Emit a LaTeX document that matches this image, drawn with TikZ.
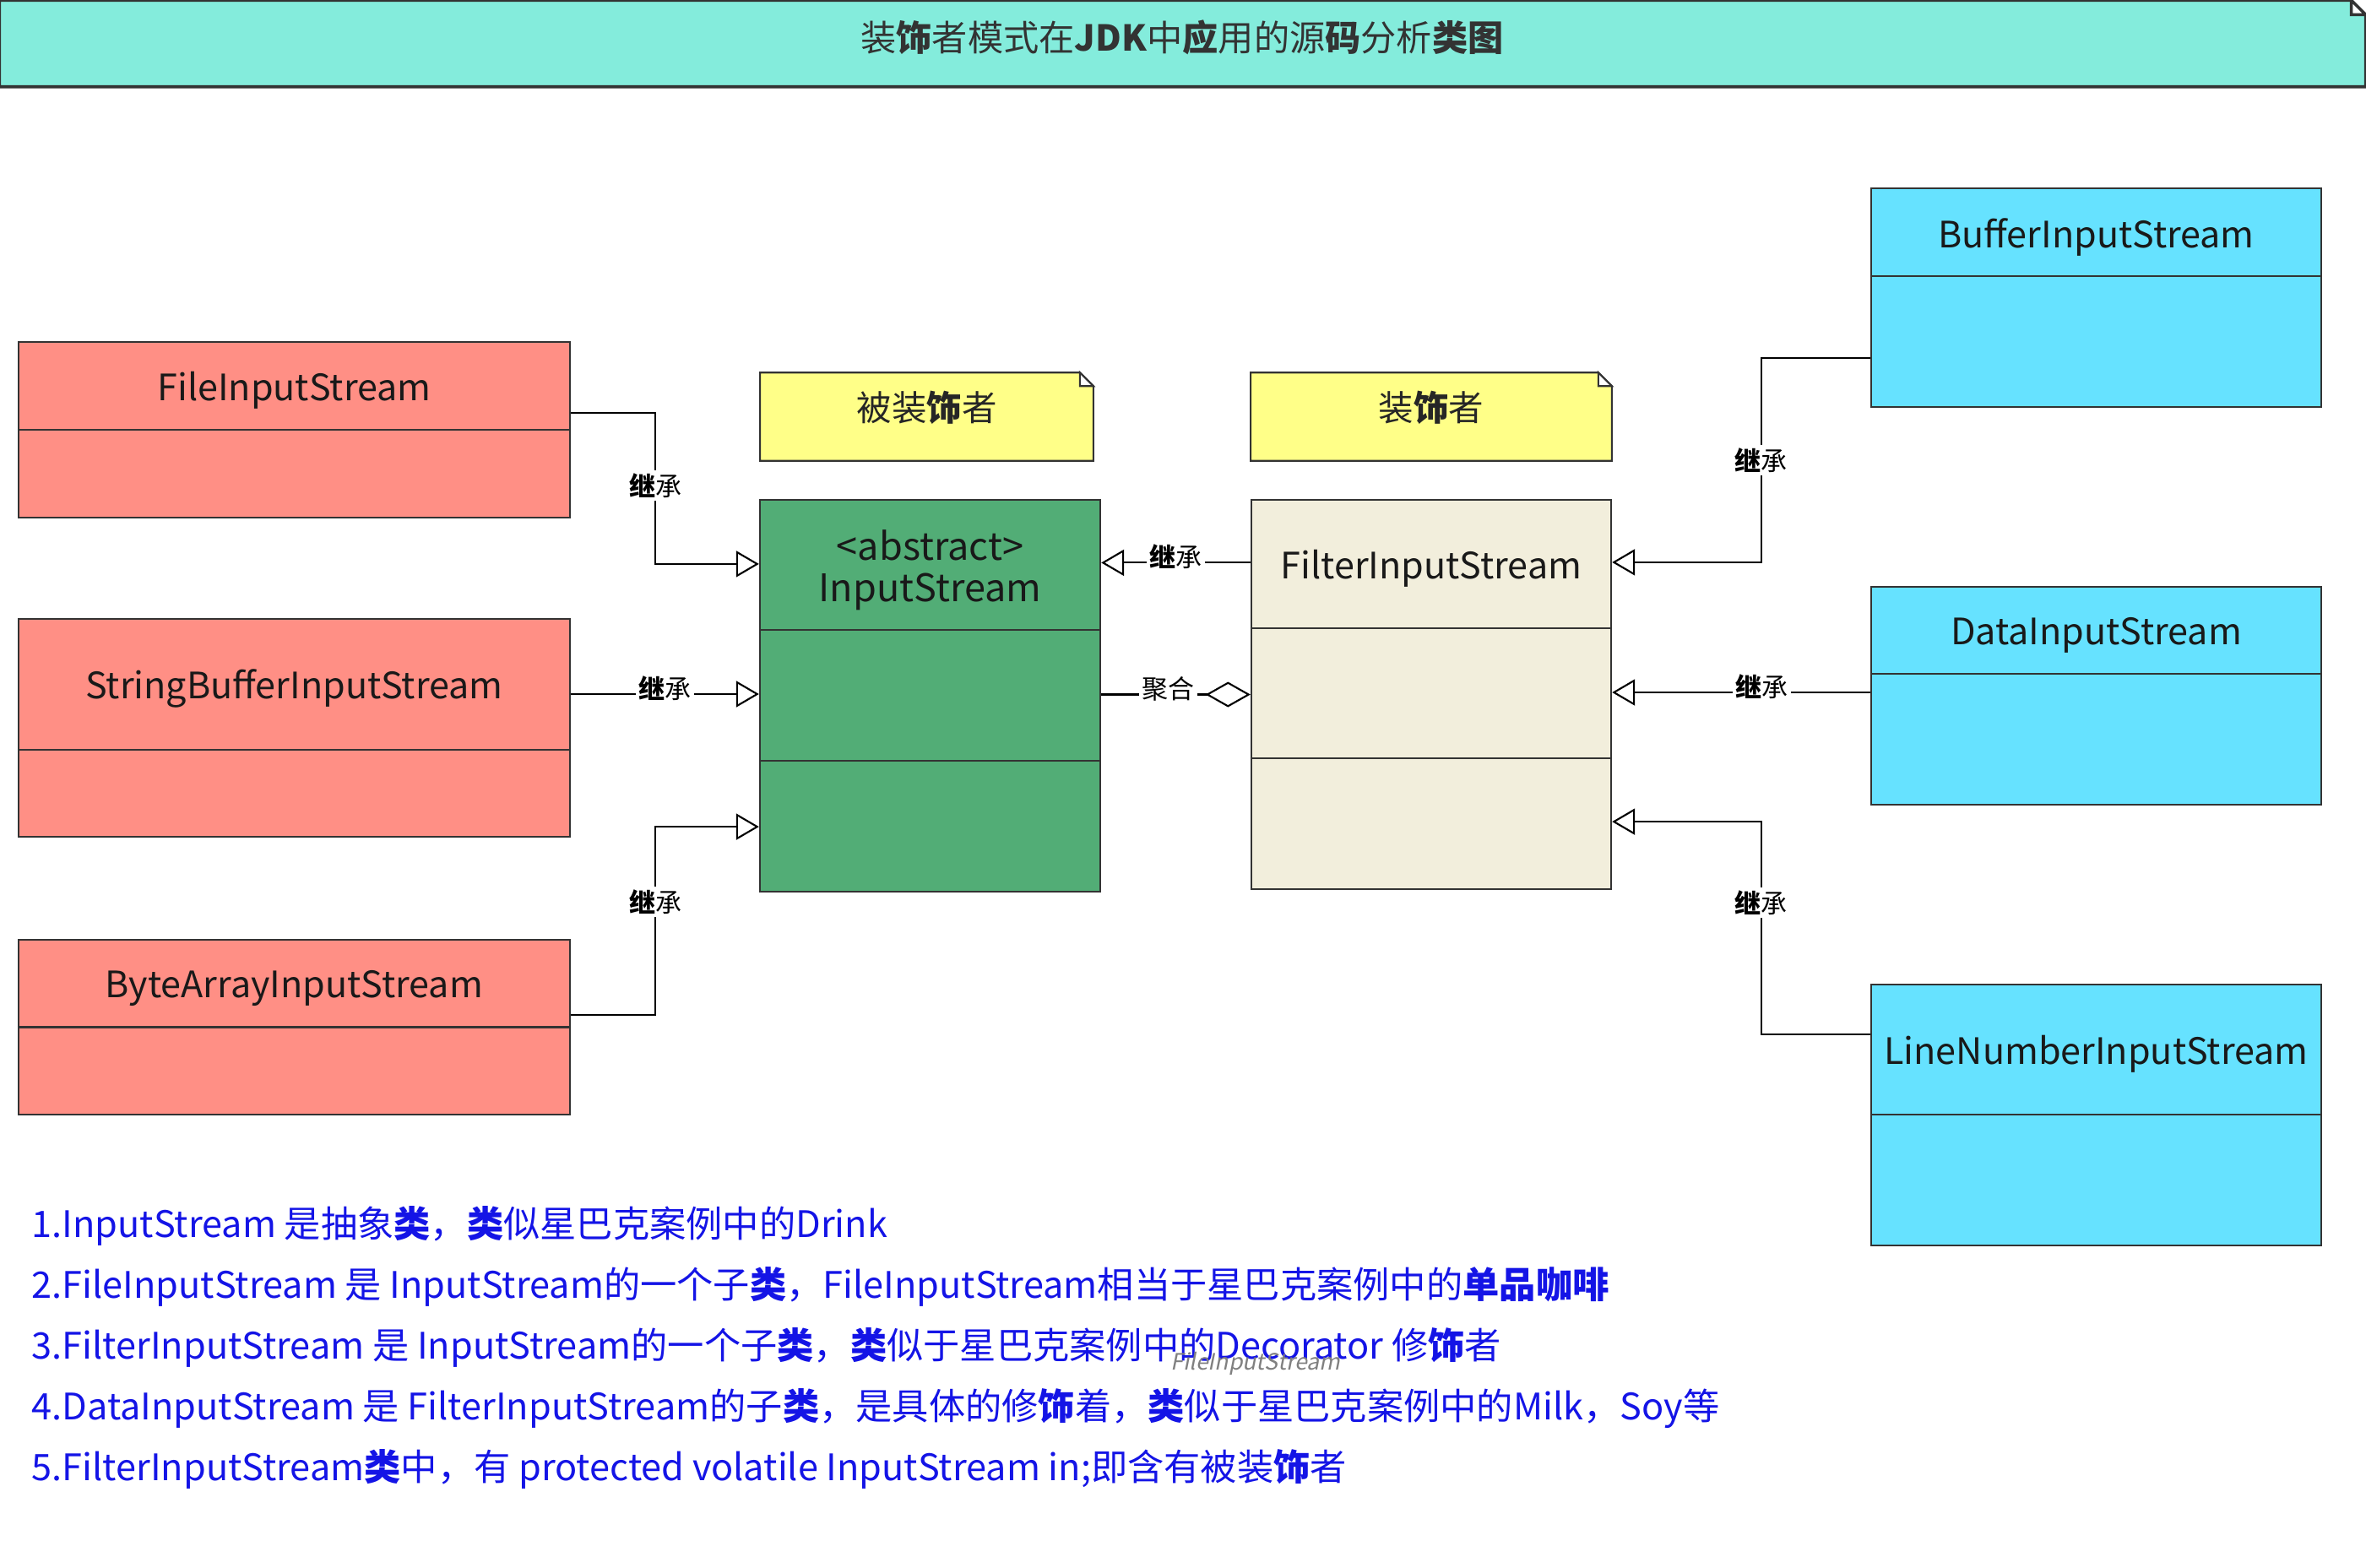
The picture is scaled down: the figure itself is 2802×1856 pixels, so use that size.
\documentclass[tikz,border=0pt]{standalone}
\usepackage{fontspec}
\setmainfont{Noto Sans CJK SC}
\newfontfamily\slantfont[FakeSlant=0.2]{Noto Sans CJK SC}
\usetikzlibrary{arrows.meta}

\definecolor{titlebg}{RGB}{132,236,220}
\definecolor{salmon}{RGB}{255,143,133}
\definecolor{absgreen}{RGB}{82,173,118}
\definecolor{beige}{RGB}{242,238,220}
\definecolor{skyblue}{RGB}{102,226,255}
\definecolor{noteyellow}{RGB}{255,255,136}
\definecolor{txtblue}{RGB}{20,20,230}
\definecolor{lineclr}{RGB}{51,51,51}

\tikzstyle{cls}=[shape=rectangle,
                 draw=lineclr,
                 line width=0.6pt,
                 inner sep=0pt]
\tikzstyle{rcls}=[cls,
                  fill=salmon,
                  minimum width=6.53cm]
\tikzstyle{bcls}=[cls,
                  fill=skyblue,
                  minimum width=5.33cm]
\tikzstyle{cname}=[font=\fontsize{12.25}{15}\selectfont,
                   text=black!90,
                   inner sep=0pt]
\tikzstyle{hole}=[shape=rectangle,
                  inner sep=0pt]
\tikzstyle{ntext}=[font=\fontsize{11.8}{14}\selectfont,
                   text=black!85,
                   inner sep=0pt]
\tikzstyle{lbl}=[fill=white,
                 inner sep=1pt,
                 font=\fontsize{8.8}{10}\selectfont]
\tikzstyle{desc}=[anchor=base west,
                  inner sep=0pt,
                  text=txtblue,
                  font=\fontsize{12.3}{15}\selectfont]
\tikzstyle{inh}=[-{Triangle[open,length=0.27cm,width=0.31cm]},
                 line width=0.6pt]
\tikzstyle{agg}=[-{Diamond[open,length=0.53cm,width=0.30cm]},
                 line width=0.6pt]
\tikzstyle{divider}=[draw=lineclr,
                     line width=0.6pt]

\begin{document}
\begin{tikzpicture}[x=0.01cm,y=-0.01cm]
\useasboundingbox (0,0) rectangle (2802,1856);

% title bar with folded corner
\node[hole, minimum width=27.99cm, minimum height=1.01cm] (bar) at (1400.5,51.5) {};
\draw[fill=titlebg, draw=lineclr, line width=1pt]
  (bar.south west) -- (bar.north west) -- ([xshift=-0.17cm]bar.north east)
  -- ([yshift=-0.17cm]bar.north east) -- (bar.south east) -- cycle;
\draw[fill=white, draw=lineclr, line width=1pt]
  ([xshift=-0.17cm]bar.north east) -- ([xshift=-0.17cm,yshift=-0.17cm]bar.north east)
  -- ([yshift=-0.17cm]bar.north east) -- cycle;
\node[font=\fontsize{12}{14}\selectfont, text=black!80, inner sep=0pt] (title) at (1400,44)
  {装\textbf{饰}者模式在\textbf{JDK}中\textbf{应}用的源\textbf{码}分析\textbf{类图}};

% decorated classes (left)
\node[rcls, minimum height=2.08cm] (file) at (348.5,509) {};
\draw[divider] (file.west |- 0,509) -- (file.east |- 0,509);
\node[cname] (fileT) at (348.5,462) {FileInputStream};

\node[rcls, minimum height=2.58cm] (sbuf) at (348.5,862) {};
\draw[divider] (sbuf.west |- 0,888) -- (sbuf.east |- 0,888);
\node[cname] (sbufT) at (348.5,815) {StringBufferInputStream};

\node[rcls, minimum height=2.07cm] (bytes) at (348.5,1216.5) {};
\draw[divider] (bytes.west |- 0,1216.5) -- (bytes.east |- 0,1216.5);
\node[cname] (bytesT) at (348.5,1170) {ByteArrayInputStream};

% notes
\node[hole, minimum width=3.93cm, minimum height=1.03cm] (ndeco) at (1097.5,493.5) {};
\draw[fill=noteyellow, draw=lineclr, line width=0.6pt]
  (ndeco.south west) -- (ndeco.north west) -- ([xshift=-0.16cm]ndeco.north east)
  -- ([yshift=-0.16cm]ndeco.north east) -- (ndeco.south east) -- cycle;
\draw[fill=white, draw=lineclr, line width=0.6pt]
  ([xshift=-0.16cm]ndeco.north east) -- ([xshift=-0.16cm,yshift=-0.16cm]ndeco.north east)
  -- ([yshift=-0.16cm]ndeco.north east) -- cycle;
\node[ntext] (ndecoT) at (1097.5,483) {被装\textbf{饰}者};

\node[hole, minimum width=4.26cm, minimum height=1.03cm] (ndec) at (1695,493.5) {};
\draw[fill=noteyellow, draw=lineclr, line width=0.6pt]
  (ndec.south west) -- (ndec.north west) -- ([xshift=-0.16cm]ndec.north east)
  -- ([yshift=-0.16cm]ndec.north east) -- (ndec.south east) -- cycle;
\draw[fill=white, draw=lineclr, line width=0.6pt]
  ([xshift=-0.16cm]ndec.north east) -- ([xshift=-0.16cm,yshift=-0.16cm]ndec.north east)
  -- ([yshift=-0.16cm]ndec.north east) -- cycle;
\node[ntext] (ndecT) at (1695,483) {装\textbf{饰}者};

% component and decorator
\node[cls, fill=absgreen, minimum width=4.03cm, minimum height=4.64cm] (instream) at (1101.5,824) {};
\draw[divider] (instream.west |- 0,746) -- (instream.east |- 0,746);
\draw[divider] (instream.west |- 0,901) -- (instream.east |- 0,901);
\node[cname, align=center, font=\fontsize{12.8}{14}\selectfont] (instreamT) at (1101.5,675) {<abstract>\\InputStream};

\node[cls, fill=beige, minimum width=4.26cm, minimum height=4.61cm] (filter) at (1695,822.5) {};
\draw[divider] (filter.west |- 0,744) -- (filter.east |- 0,744);
\draw[divider] (filter.west |- 0,898) -- (filter.east |- 0,898);
\node[cname] (filterT) at (1695,673) {FilterInputStream};

% concrete decorators (right)
\node[bcls, minimum height=2.59cm] (buffer) at (2482.5,352.5) {};
\draw[divider] (buffer.west |- 0,327) -- (buffer.east |- 0,327);
\node[cname] (bufferT) at (2482.5,281) {BufferInputStream};

\node[bcls, minimum height=2.58cm] (data) at (2482.5,824) {};
\draw[divider] (data.west |- 0,798) -- (data.east |- 0,798);
\node[cname] (dataT) at (2482.5,752) {DataInputStream};

\node[bcls, minimum height=3.09cm] (linenum) at (2482.5,1320.5) {};
\draw[divider] (linenum.west |- 0,1320) -- (linenum.east |- 0,1320);
\node[cname] (linenumT) at (2482.5,1248) {LineNumberInputStream};

% inheritance and aggregation
\draw[inh] ([yshift=0.2cm]file.east) -- ++(100,0)
  |- node[lbl, pos=0.24] {\textbf{继}承} ([yshift=1.56cm]instream.west);
\draw[inh] ([yshift=0.4cm]sbuf.east)
  -- node[lbl, yshift=0.07cm] {\textbf{继}承} ([yshift=0.4cm]sbuf.east -| instream.west);
\draw[inh] ([yshift=0.145cm]bytes.east) -- ++(100,0)
  |- node[lbl, pos=0.3] {\textbf{继}承} ([yshift=-1.55cm]instream.west);
\draw[inh] ([yshift=1.56cm]filter.west)
  -- node[lbl, yshift=0.07cm] {\textbf{继}承} ([yshift=1.56cm]filter.west -| instream.east);
\draw[agg] (instream.east |- filter.west)
  -- node[lbl, pos=0.45, yshift=0.07cm] {聚合} (filter.west);
\draw[inh] ([yshift=-0.715cm]buffer.west) -- ++(-129,0)
  |- node[lbl, pos=0.25] {\textbf{继}承} ([yshift=1.565cm]filter.east);
\draw[inh] ([yshift=0.04cm]data.west)
  -- node[lbl, pos=0.42, yshift=0.07cm] {\textbf{继}承} ([yshift=0.04cm]data.west -| filter.east);
\draw[inh] ([yshift=0.955cm]linenum.west) -- ++(-129,0)
  |- node[lbl, pos=0.31] {\textbf{继}承} ([yshift=-1.505cm]filter.east);

% notes on the classes
\node[desc] (desc1) at (37,1465) {1.InputStream 是抽象\textbf{类}，\textbf{类}似星巴克案例中的Drink};
\node[desc] (desc2) at (37,1537) {2.FileInputStream 是 InputStream的一个子\textbf{类}，FileInputStream相当于星巴克案例中的\textbf{单品咖啡}};
\node[desc] (desc3) at (37,1609) {3.FilterInputStream 是 InputStream的一个子\textbf{类}，\textbf{类}似于星巴克案例中的Decorator 修\textbf{饰}者};
\node[desc] (desc4) at (37,1681) {4.DataInputStream 是 FilterInputStream的子\textbf{类}，是具体的修\textbf{饰}着，\textbf{类}似于星巴克案例中的Milk，Soy等};
\node[desc] (desc5) at (37,1753) {5.FilterInputStream\textbf{类}中，有 protected volatile InputStream in;即含有被装\textbf{饰}者};
\node[font=\slantfont\fontsize{7.6}{9}\selectfont, text=black!50, inner sep=0pt] (stray) at (1487,1615) {FileInputStream};

\end{tikzpicture}
\end{document}
